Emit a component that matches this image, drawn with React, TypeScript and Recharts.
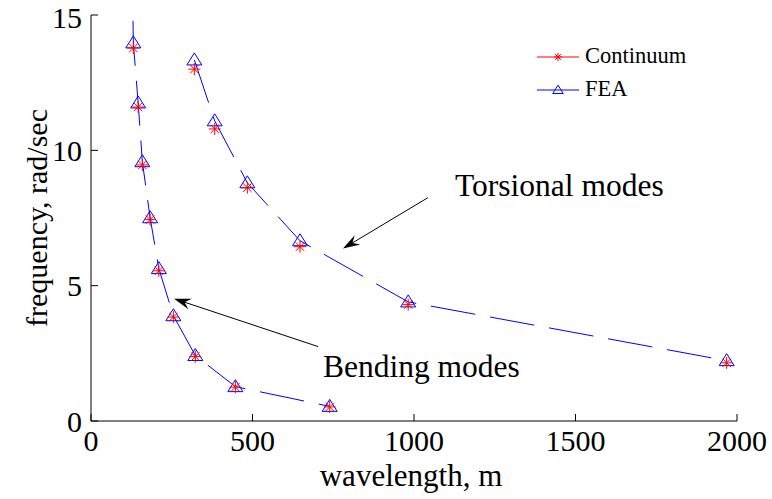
import React from "react";
import {
  Legend,
  Line,
  LineChart,
  ReferenceDot,
  ReferenceLine,
  XAxis,
  YAxis,
} from "recharts";

// wavelength (m) and frequency (rad/sec)
const bendingWavelengthFea = [128, 131, 146, 159, 183, 210, 255, 323, 447, 739];
const bendingFreqFea = [17, 13.97, 11.75, 9.58, 7.51, 5.63, 3.89, 2.42, 1.27, 0.54];
const bendingWavelengthCont = [131, 146, 159, 183, 210, 255, 323, 447, 739];
const bendingFreqCont = [13.78, 11.6, 9.46, 7.44, 5.55, 3.84, 2.38, 1.25, 0.52];

const torsionalWavelength = [320, 383, 484, 647, 982, 1968];
const torsionalFreqFea = [13.34, 11.09, 8.8, 6.66, 4.4, 2.23];
const torsionalFreqCont = [13.0, 10.79, 8.62, 6.44, 4.3, 2.15];

const xTicks = [0, 500, 1000, 1500, 2000];
const yTicks = [0, 5, 10, 15];

const zip = (xs: number[], ys: number[]) => xs.map((x, i) => ({ x, y: ys[i] }));

const bendingFea = zip(bendingWavelengthFea, bendingFreqFea);
const bendingCont = zip(bendingWavelengthCont, bendingFreqCont);
const torsionalFea = zip(torsionalWavelength, torsionalFreqFea);
const torsionalCont = zip(torsionalWavelength, torsionalFreqCont);

const BLUE = "#0000ff";
const RED = "#ff0000";
const FONT = "'Liberation Serif', 'Times New Roman', serif";

function Triangle(cx: number, cy: number, s = 1, key?: string) {
  return (
    <polygon
      key={key}
      points={`${cx},${cy - 7 * s} ${cx - 7.5 * s},${cy + 5 * s} ${cx + 7.5 * s},${cy + 5 * s}`}
      fill="none"
      stroke={BLUE}
      strokeWidth={1}
    />
  );
}

function Asterisk(cx: number, cy: number, r = 6, key?: string) {
  const d = r * 0.7;
  return (
    <g key={key} stroke={RED} strokeWidth={1}>
      <line x1={cx - r} y1={cy} x2={cx + r} y2={cy} />
      <line x1={cx} y1={cy - r} x2={cx} y2={cy + r} />
      <line x1={cx - d} y1={cy - d} x2={cx + d} y2={cy + d} />
      <line x1={cx - d} y1={cy + d} x2={cx + d} y2={cy - d} />
    </g>
  );
}

const feaDot = (props: any) => Triangle(props.cx, props.cy, 1, `fea-${props.index}`);
const contDot = (props: any) => Asterisk(props.cx, props.cy, 6, `cont-${props.index}`);

function Arrow(props: any) {
  const { x1, y1, x2, y2 } = props;
  const len = Math.hypot(x1 - x2, y1 - y2);
  const ux = (x1 - x2) / len;
  const uy = (y1 - y2) / len;
  const nx = -uy;
  const ny = ux;
  const L = 17;
  const w = 5.5;
  const head = [
    [x2, y2],
    [x2 + ux * L + nx * w, y2 + uy * L + ny * w],
    [x2 + ux * L * 0.65, y2 + uy * L * 0.65],
    [x2 + ux * L - nx * w, y2 + uy * L - ny * w],
  ]
    .map((p) => p.join(","))
    .join(" ");
  return (
    <g>
      <line x1={x1} y1={y1} x2={x2 + ux * L * 0.6} y2={y2 + uy * L * 0.6} stroke="#000" strokeWidth={1} />
      <polygon points={head} fill="#000" />
    </g>
  );
}

const annotationText = (text: string) => (props: any) => (
  <text x={props.cx} y={props.cy} fontSize={31.5} fontFamily={FONT} fill="#000">
    {text}
  </text>
);

function LegendContent() {
  const row = (label: string, marker: React.ReactNode, color: string) => (
    <div style={{ display: "flex", alignItems: "center", height: 33 }}>
      <svg width={44} height={20}>
        <line x1={2} y1={10} x2={44} y2={10} stroke={color} strokeWidth={1} />
        {marker}
      </svg>
      <span style={{ marginLeft: 6, fontSize: 22.5, lineHeight: 1, fontFamily: FONT, color: "#000" }}>
        {label}
      </span>
    </div>
  );
  return (
    <div>
      {row("Continuum", Asterisk(23, 10, 4), RED)}
      {row("FEA", Triangle(23, 10, 0.7), BLUE)}
    </div>
  );
}

const tickStyle = { fill: "#000", fontSize: 30, fontFamily: FONT };

export default function App() {
  return (
    <div style={{ position: "absolute", left: 0, top: 0, background: "#fff" }}>
      <LineChart
        width={772}
        height={499}
        margin={{ top: 15, right: 35, bottom: 48, left: 61 }}
      >
        <XAxis
          dataKey="x"
          type="number"
          domain={[0, 2000]}
          ticks={xTicks}
          height={30}
          tickSize={-7}
          tickMargin={16}
          tick={tickStyle}
          axisLine={{ stroke: "#000" }}
          tickLine={{ stroke: "#000" }}
          label={{
            value: "wavelength, m",
            position: "bottom",
            offset: 13,
            dx: -3,
            fill: "#000",
            fontSize: 31,
            fontFamily: FONT,
          }}
        />
        <YAxis
          type="number"
          domain={[0, 15]}
          ticks={yTicks}
          allowDataOverflow
          width={30}
          tickSize={-7}
          tickMargin={16}
          tick={tickStyle}
          axisLine={{ stroke: "#000" }}
          tickLine={{ stroke: "#000" }}
          label={{
            value: "frequency, rad/sec",
            angle: -90,
            position: "center",
            dx: -40,
            fill: "#000",
            fontSize: 30,
            fontFamily: FONT,
          }}
        />
        <XAxis
          xAxisId="top"
          orientation="top"
          type="number"
          domain={[0, 2000]}
          ticks={xTicks}
          height={0}
          tickSize={-7}
          tickFormatter={() => ""}
          axisLine={{ stroke: "#000" }}
          tickLine={{ stroke: "#000" }}
        />
        <YAxis
          yAxisId="right"
          orientation="right"
          type="number"
          domain={[0, 15]}
          ticks={yTicks}
          width={0}
          tickSize={-7}
          tickFormatter={() => ""}
          axisLine={{ stroke: "#000" }}
          tickLine={{ stroke: "#000" }}
        />

        <Line
          data={bendingFea}
          dataKey="y"
          type="linear"
          stroke={BLUE}
          strokeWidth={1}
          strokeDasharray="45 15"
          dot={feaDot}
          activeDot={false}
          isAnimationActive={false}
        />
        <Line
          data={torsionalFea}
          dataKey="y"
          type="linear"
          stroke={BLUE}
          strokeWidth={1}
          strokeDasharray="45 15"
          dot={feaDot}
          activeDot={false}
          isAnimationActive={false}
        />
        <Line
          data={bendingCont}
          dataKey="y"
          type="linear"
          stroke="none"
          dot={contDot}
          activeDot={false}
          isAnimationActive={false}
        />
        <Line
          data={torsionalCont}
          dataKey="y"
          type="linear"
          stroke="none"
          dot={contDot}
          activeDot={false}
          isAnimationActive={false}
        />

        <ReferenceLine
          segment={[
            { x: 1043, y: 8.25 },
            { x: 780, y: 6.37 },
          ]}
          shape={Arrow}
        />
        <ReferenceLine
          segment={[
            { x: 703, y: 2.75 },
            { x: 257, y: 4.52 },
          ]}
          shape={Arrow}
        />
        <ReferenceDot x={1127} y={8.32} r={0} shape={annotationText("Torsional modes")} />
        <ReferenceDot x={718} y={1.64} r={0} shape={annotationText("Bending modes")} />

        <Legend
          layout="vertical"
          verticalAlign="middle"
          align="center"
          content={<LegendContent />}
          wrapperStyle={{ left: 535, top: 40, width: 170, height: 66 }}
        />
      </LineChart>
    </div>
  );
}
